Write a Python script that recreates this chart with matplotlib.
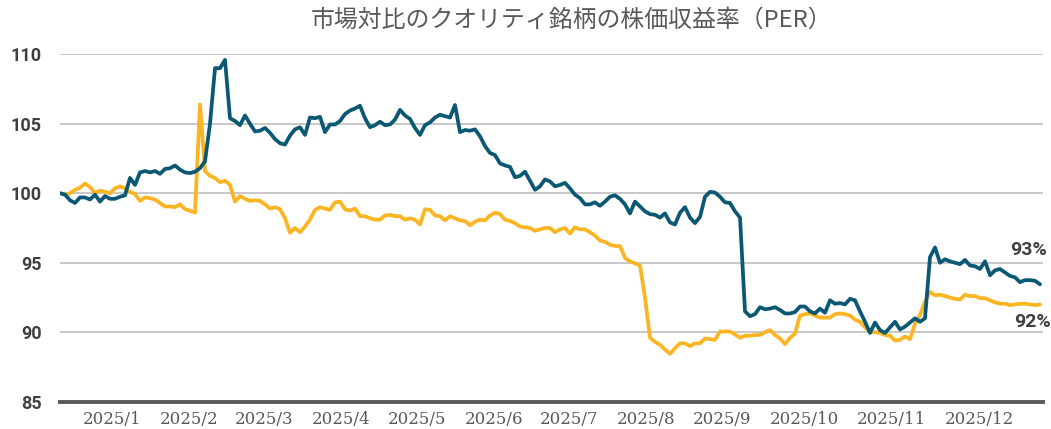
import matplotlib
matplotlib.use("Agg")
import matplotlib.pyplot as plt
import numpy as np

# ---------------- data ----------------
title_text = "市場対比のクオリティ銘柄の株価収益率（PER）"
month_labels = ["2025/1", "2025/2", "2025/3", "2025/4", "2025/5", "2025/6",
                "2025/7", "2025/8", "2025/9", "2025/10", "2025/11", "2025/12"]
y_ticks = [85, 90, 95, 100, 105, 110]
end_labels = ["93%", "92%"]

# relative PER, teal series (ends at 93%)
teal_values = [
    100.0, 99.9, 99.5, 99.3, 99.7, 99.7, 99.55, 99.9, 99.4, 99.8,
    99.6, 99.6, 99.75, 99.85, 101.1, 100.6, 101.5, 101.6, 101.5, 101.6,
    101.4, 101.75, 101.8, 102.0, 101.7, 101.5, 101.45, 101.55, 101.8, 102.3,
    105.0, 109.0, 109.0, 109.6, 105.4, 105.2, 104.9, 105.6, 105.0, 104.45,
    104.5, 104.7, 104.35, 103.9, 103.6, 103.5, 104.15, 104.6, 104.75, 104.2,
    105.45, 105.4, 105.5, 104.4, 104.95, 104.95, 105.2, 105.7, 105.95, 106.1,
    106.3, 105.4, 104.75, 104.9, 105.15, 104.9, 104.95, 105.3, 106.0, 105.6,
    105.35, 104.7, 104.2, 104.9, 105.1, 105.45, 105.65, 105.55, 105.45,
    106.35, 104.4, 104.55, 104.5, 104.6, 104.1, 103.4, 102.9, 102.75, 102.15,
    102.0, 101.9, 101.15, 101.25, 101.55, 100.9, 100.25, 100.5, 101.0, 100.85,
    100.5, 100.6, 100.75, 100.35, 99.9, 99.65, 99.2, 99.2, 99.35, 99.1,
    99.4, 99.75, 99.85, 99.6, 99.2, 98.55, 99.4, 99.05, 98.7,
    98.5, 98.45, 98.25, 98.55, 97.9, 97.75, 98.6, 99.0, 98.25, 97.85,
    98.3, 99.75, 100.1, 100.05, 99.75, 99.35, 99.3, 98.7, 98.25, 91.5,
    91.15, 91.3, 91.8, 91.65, 91.7, 91.8, 91.6, 91.35, 91.35, 91.45,
    91.85, 91.85, 91.5, 91.35, 91.7, 91.4, 92.3, 92.05, 92.1,
    92.0, 92.4, 92.3, 91.5, 90.75, 89.95, 90.7, 90.15, 89.95, 90.35,
    90.75, 90.2, 90.4, 90.7, 91.0, 90.75, 91.0, 95.4, 96.1, 95.0,
    95.25, 95.1, 95.0, 94.9, 95.2, 94.8, 94.75, 94.55, 95.1, 94.1,
    94.45, 94.55, 94.3, 94.05, 93.95, 93.6, 93.75, 93.75, 93.7, 93.45,
]

# relative PER, yellow series (ends at 92%)
yellow_values = [
    100.0, 99.9, 100.0, 100.25, 100.4, 100.7, 100.45, 100.0, 100.2, 100.1,
    100.0, 100.35, 100.5, 100.35, 100.1, 99.95, 99.45, 99.7, 99.65, 99.55,
    99.3, 99.05, 99.05, 99.0, 99.2, 98.85, 98.75, 98.6, 106.4, 101.6,
    101.25, 101.1, 100.8, 100.9, 100.6, 99.4, 99.8, 99.6, 99.45, 99.5,
    99.45, 99.2, 98.9, 99.0, 98.85, 98.2, 97.15, 97.5, 97.2, 97.6,
    98.1, 98.8, 99.0, 98.9, 98.8, 99.35, 99.4, 98.85, 98.75, 98.9,
    98.35, 98.35, 98.2, 98.1, 98.1, 98.4, 98.45, 98.35, 98.35, 98.1,
    98.2, 98.1, 97.75, 98.85, 98.8, 98.4, 98.35, 98.05, 98.35,
    98.2, 98.05, 98.0, 97.7, 97.95, 98.1, 98.05, 98.4, 98.6, 98.5,
    98.1, 98.0, 97.85, 97.6, 97.55, 97.5, 97.3, 97.4, 97.5, 97.5,
    97.2, 97.4, 97.5, 97.1, 97.55, 97.4, 97.4, 97.2, 96.95, 96.6,
    96.5, 96.3, 96.2, 96.2, 95.35, 95.1, 94.95, 94.8, 92.5,
    89.6, 89.3, 89.1, 88.75, 88.45, 88.85, 89.2, 89.2, 89.0, 89.2,
    89.2, 89.55, 89.5, 89.45, 90.05, 90.05, 90.05, 89.85, 89.6, 89.75,
    89.75, 89.8, 89.8, 90.0, 90.15, 89.8, 89.55, 89.15, 89.6, 89.9,
    91.2, 91.3, 91.35, 91.2, 91.05, 91.05, 91.05, 91.3, 91.35,
    91.3, 91.2, 90.9, 90.75, 90.35, 90.05, 90.0, 89.95, 89.8, 89.75,
    89.4, 89.45, 89.7, 89.5, 90.6, 91.25, 92.2, 92.9, 92.65, 92.7,
    92.6, 92.5, 92.4, 92.35, 92.7, 92.6, 92.6, 92.45, 92.45, 92.3,
    92.15, 92.05, 92.05, 91.95, 92.0, 92.05, 92.05, 92.0, 91.95, 92.0,
]

# ---------------- style / layout ----------------
TEAL = "#0b5874"
YELLOW = "#fbb522"
GRID = "#c4c4c4"
LABEL_DARK = "#404040"
LABEL_GRAY = "#595959"

W, H = 1051, 429
fig = plt.figure(figsize=(W / 100, H / 100), dpi=100)
left_px, right_px, top_px, bottom_px = 60, 1043, 54.3, 401.7
ax = fig.add_axes([left_px / W, 1 - bottom_px / H,
                   (right_px - left_px) / W, (bottom_px - top_px) / H])

x = np.arange(len(teal_values))
step_px = 5.0
ax.set_xlim(0, (right_px - left_px) / step_px)
ax.set_ylim(85, 110)

ax.plot(x, yellow_values, color=YELLOW, lw=2.7, solid_joinstyle="round",
        solid_capstyle="round", zorder=3)
ax.plot(x, teal_values, color=TEAL, lw=2.7, solid_joinstyle="round",
        solid_capstyle="round", zorder=4)

# grid
ax.set_yticks(y_ticks)
ax.yaxis.grid(True, color=GRID, lw=1.3)
ax.set_axisbelow(True)
for s in ["top", "right", "left"]:
    ax.spines[s].set_visible(False)
ax.spines["bottom"].set_color("#595959")
ax.spines["bottom"].set_linewidth(2.8)

ax.set_yticklabels([str(v) for v in y_ticks], fontsize=13, fontweight="bold",
                   color=LABEL_DARK, family=["Roboto", "DejaVu Sans"])
ax.tick_params(axis="y", length=0, pad=13)

# month labels
label_centers_px = [112.5, 188.7, 264.5, 341, 417.5, 493.7, 569.5, 645.8,
                    722, 804.7, 891.3, 979.5]
ax.set_xticks([(c - left_px) / step_px for c in label_centers_px])
ax.set_xticklabels(month_labels, fontsize=12, color=LABEL_GRAY,
                   family=["DejaVu Serif"])
ax.tick_params(axis="x", length=0, pad=7)

# end labels
ax.annotate(end_labels[0], xy=(x[-1], teal_values[-1]), xytext=(5, 25),
            textcoords="offset points", ha="right", va="center",
            fontsize=14, fontweight="bold", color=LABEL_DARK,
            family=["Roboto", "DejaVu Sans"], annotation_clip=False)
ax.annotate(end_labels[1], xy=(x[-1], yellow_values[-1]), xytext=(7.5, -12.5),
            textcoords="offset points", ha="right", va="center",
            fontsize=14, fontweight="bold", color=LABEL_DARK,
            family=["Roboto", "DejaVu Sans"], annotation_clip=False)

fig.text(572 / W, 1 - 20 / H, title_text, ha="center", va="center",
         fontsize=17.2, color=LABEL_GRAY,
         family=["Noto Sans CJK JP", "DejaVu Sans"])

fig.savefig("out.png", dpi=100)
